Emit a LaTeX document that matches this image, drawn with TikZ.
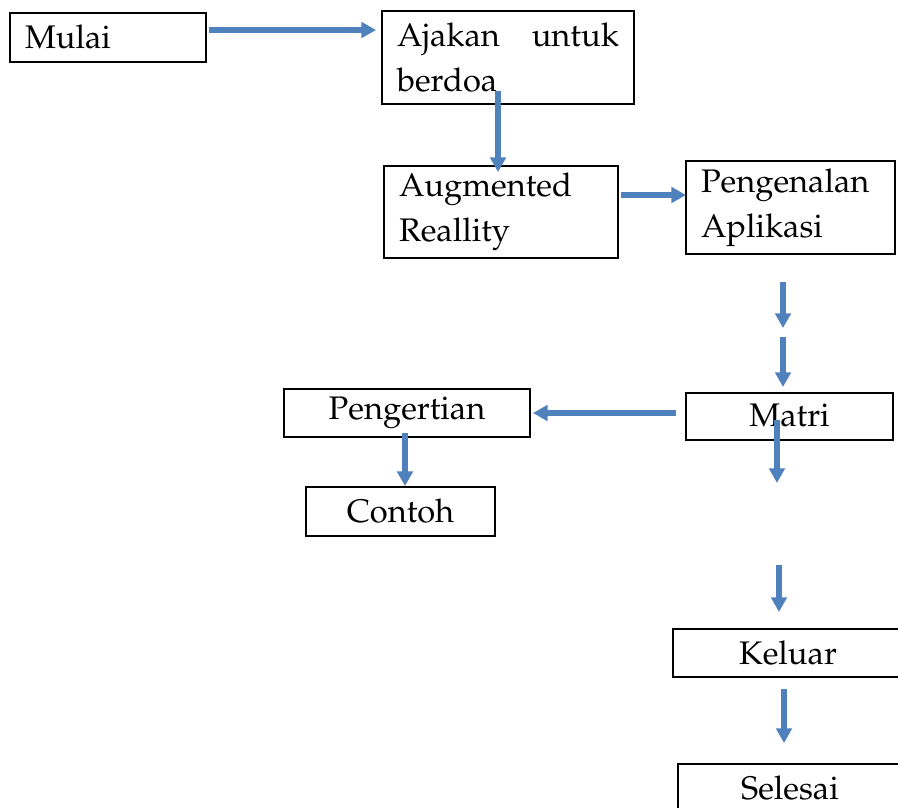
\documentclass[tikz,border=0pt]{standalone}
\usepackage[T1]{fontenc}
\renewcommand\rmdefault{ppl}
\usetikzlibrary{arrows.meta}
\definecolor{arrowblue}{HTML}{4F81BD}
\begin{document}
\begin{tikzpicture}[x=0.75pt,y=-0.75pt,
  box/.style={draw, line width=1.4pt, inner sep=0pt, font=\fontsize{24.5}{34}\selectfont},
  flow/.style={draw=arrowblue, line width=4.2pt, -{Triangle[width=11.5pt,length=11pt]}}]
\useasboundingbox (0,0) rectangle (898,807);
\clip (0,0) rectangle (898,807);
\fill[white] (0,0) rectangle (898,807);

\node[box, minimum width=147pt, minimum height=36.75pt, text width=124.5pt, align=left] (mulai) at (108,37.5) {\raisebox{1.5pt}{Mulai}};
\node[box, minimum width=189pt, minimum height=69.75pt, text width=166.5pt, align=left] (ajakan) at (508,57.5) {\makebox[166.5pt][s]{Ajakan\hfill untuk}\\berdoa};
\node[box, minimum width=175.5pt, minimum height=69pt, text width=153pt, align=left] (ar) at (501,212) {Augmented\\Reallity};
\node[box, minimum width=156.75pt, minimum height=69.75pt, text width=134.25pt, align=left] (pengenalan) at (790.5,207.5) {Pengenalan\\Aplikasi};
\node[box, minimum width=155.25pt, minimum height=35.25pt] (matri) at (789.5,416.5) {\raisebox{1.5pt}{Matri}};
\node[box, minimum width=184.5pt, minimum height=36pt] (pengertian) at (407,413) {Pengertian};
\node[box, minimum width=141.75pt, minimum height=36.75pt] (contoh) at (400.5,511.5) {Contoh};
\node[box, minimum width=172.5pt, minimum height=36pt] (keluar) at (788,653) {Keluar};
\node[box, minimum width=168pt, minimum height=36pt] (selesai) at (790,788) {Selesai};

\coordinate (f1a) at (783,282);
\coordinate (f1b) at (783,328);
\coordinate (f2a) at (783,337);
\coordinate (f2b) at (783,387);
\coordinate (f3b) at (777,483);
\coordinate (f4a) at (779,565);
\coordinate (f4b) at (779,612);

\draw[flow] ([shift={(2,-7.5)}]mulai.east) -- ([shift={(-5,-27.5)}]ajakan.west);
\draw[flow] ([shift={(-10,-14)}]ajakan.south) -- ([shift={(-3,7)}]ar.north);
\draw[flow] ([shift={(2,-17)}]ar.east) -- ([shift={(1,-12.5)}]pengenalan.west);
\draw[flow] (f1a) -- (f1b);
\draw[flow] (f2a) -- (f2b);
\draw[flow] ([shift={(-9,-3.5)}]matri.west) -- ([shift={(2,0)}]pengertian.east);
\draw[flow] ([shift={(-2,-5)}]pengertian.south) -- ([shift={(4.5,0)}]contoh.north);
\draw[flow] ([shift={(-12.5,-21)}]matri.south) -- (f3b);
\draw[flow] (f4a) -- (f4b);
\draw[flow] ([shift={(-4,11)}]keluar.south) -- ([shift={(-6,-20)}]selesai.north);
\end{tikzpicture}
\end{document}
